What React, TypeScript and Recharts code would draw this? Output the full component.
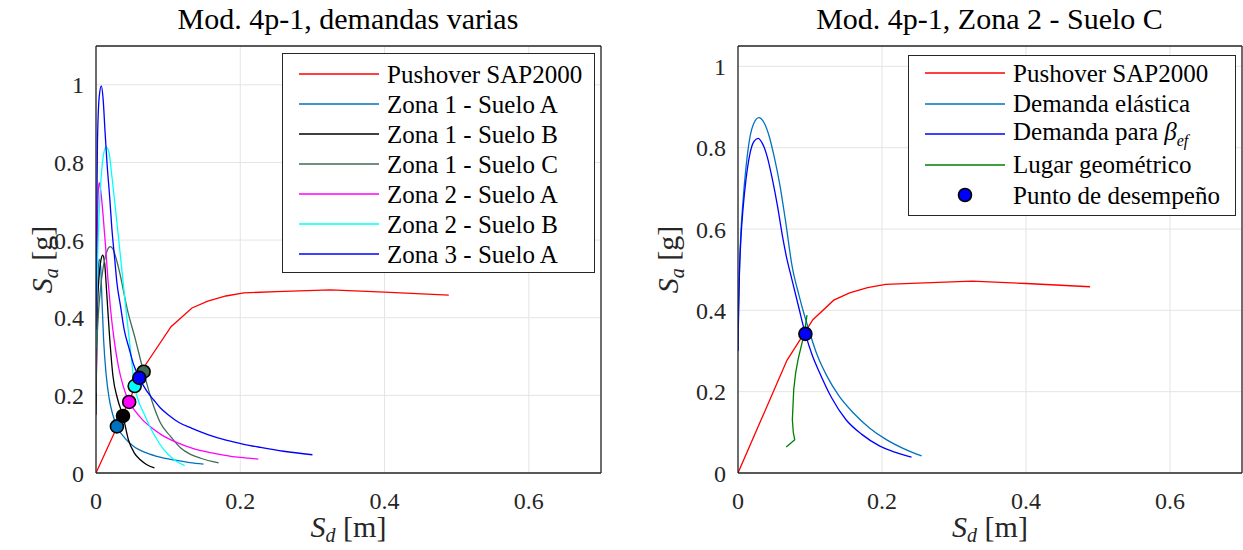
import React from "react";
import { ComposedChart, Line, Scatter, XAxis, YAxis, CartesianGrid } from "recharts";

type Pt = [number, number];

// Sd [m], Sa [g]
const pushover: Pt[] = [[0, 0], [0.068, 0.277], [0.104, 0.377], [0.133, 0.425], [0.155, 0.443], [0.18, 0.456], [0.205, 0.464], [0.25, 0.467], [0.325, 0.472], [0.4, 0.466], [0.489, 0.458]];

const zona1SueloA: Pt[] = [[0, 0.18], [0.001, 0.38], [0.0025, 0.5], [0.0045, 0.55], [0.0065, 0.53], [0.0082, 0.45], [0.0105, 0.345], [0.014, 0.255], [0.018, 0.195], [0.023, 0.152], [0.029, 0.12], [0.04, 0.09], [0.052, 0.069], [0.068, 0.053], [0.0845, 0.043], [0.11, 0.033], [0.13, 0.027], [0.149, 0.023]];
const zona1SueloB: Pt[] = [[0, 0.15], [0.0008, 0.3], [0.002, 0.42], [0.004, 0.5], [0.0065, 0.545], [0.0093, 0.561], [0.012, 0.54], [0.015, 0.46], [0.0185, 0.36], [0.0235, 0.25], [0.03, 0.19], [0.0374, 0.147], [0.045, 0.085], [0.053, 0.052], [0.0614, 0.034], [0.07, 0.022], [0.081, 0.013]];
const zona1SueloC: Pt[] = [[0, 0.207], [0.001, 0.31], [0.003, 0.4], [0.006, 0.47], [0.01, 0.53], [0.015, 0.57], [0.0198, 0.583], [0.024, 0.575], [0.028, 0.552], [0.033, 0.515], [0.038, 0.47], [0.043, 0.425], [0.0545, 0.345], [0.066, 0.26], [0.08, 0.172], [0.089, 0.13], [0.103, 0.095], [0.117, 0.065], [0.131, 0.048], [0.145, 0.038], [0.17, 0.026]];
const zona2SueloA: Pt[] = [[0, 0.27], [0.0008, 0.45], [0.002, 0.64], [0.0035, 0.735], [0.0046, 0.748], [0.007, 0.72], [0.01, 0.66], [0.013, 0.59], [0.0165, 0.5], [0.02, 0.425], [0.025, 0.345], [0.031, 0.275], [0.038, 0.222], [0.046, 0.183], [0.055, 0.158], [0.064, 0.138], [0.078, 0.115], [0.092, 0.097], [0.11, 0.08], [0.135, 0.063], [0.16, 0.052], [0.1815, 0.045], [0.2, 0.04], [0.225, 0.036]];
const zona2SueloB: Pt[] = [[0, 0.32], [0.001, 0.45], [0.003, 0.6], [0.006, 0.73], [0.009, 0.8], [0.0139, 0.84], [0.018, 0.825], [0.022, 0.765], [0.027, 0.68], [0.031, 0.61], [0.036, 0.52], [0.041, 0.43], [0.0476, 0.32], [0.0536, 0.224], [0.059, 0.185], [0.066, 0.155], [0.075, 0.118], [0.085, 0.085], [0.094, 0.06], [0.108, 0.035], [0.123, 0.019]];
const zona3SueloA: Pt[] = [[0, 0.37], [0.0008, 0.6], [0.002, 0.85], [0.0045, 0.97], [0.0074, 0.997], [0.01, 0.96], [0.0125, 0.88], [0.0152, 0.8], [0.019, 0.71], [0.022, 0.63], [0.026, 0.55], [0.029, 0.49], [0.034, 0.43], [0.039, 0.37], [0.046, 0.32], [0.052, 0.28], [0.06, 0.245], [0.07, 0.212], [0.08, 0.188], [0.089, 0.168], [0.1, 0.15], [0.115, 0.13], [0.133, 0.115], [0.155, 0.099], [0.1815, 0.084], [0.205, 0.074], [0.228, 0.066], [0.26, 0.056], [0.3, 0.047]];

// performance points, left panel
const ptZ1A: Pt = [0.029, 0.12];
const ptZ1B: Pt = [0.0374, 0.147];
const ptZ1C: Pt = [0.066, 0.261];
const ptZ2A: Pt = [0.046, 0.183];
const ptZ2B: Pt = [0.0536, 0.224];
const ptZ3A: Pt = [0.06, 0.245];

// right panel (zona 2 - suelo C)
const demandaElastica: Pt[] = [[0, 0.3], [0.0008, 0.4], [0.002, 0.5], [0.004, 0.59], [0.007, 0.67], [0.011, 0.75], [0.016, 0.82], [0.022, 0.86], [0.029, 0.874], [0.036, 0.862], [0.043, 0.83], [0.05, 0.78], [0.058, 0.71], [0.066, 0.62], [0.075, 0.51], [0.085, 0.435], [0.0996, 0.345], [0.11, 0.29], [0.123, 0.24], [0.14, 0.19], [0.16, 0.148], [0.183, 0.11], [0.206, 0.082], [0.23, 0.06], [0.255, 0.042]];
const demandaBeta: Pt[] = [[0, 0.3], [0.0008, 0.4], [0.002, 0.49], [0.004, 0.575], [0.007, 0.65], [0.011, 0.72], [0.016, 0.78], [0.022, 0.815], [0.0278, 0.823], [0.034, 0.81], [0.041, 0.775], [0.048, 0.72], [0.055, 0.655], [0.062, 0.58], [0.067, 0.534], [0.075, 0.475], [0.084, 0.41], [0.0936, 0.342], [0.103, 0.29], [0.1135, 0.246], [0.13, 0.185], [0.15, 0.131], [0.172, 0.095], [0.197, 0.066], [0.22, 0.05], [0.241, 0.039]];
const lugarGeometrico: Pt[] = [[0.067, 0.064], [0.0788, 0.082], [0.0768, 0.1], [0.0755, 0.131], [0.0765, 0.17], [0.0774, 0.205], [0.08, 0.245], [0.0834, 0.279], [0.09, 0.328], [0.0936, 0.36], [0.0958, 0.388]];
const puntoDesempeno: Pt = [0.0936, 0.342];

const xTicks = [0, 0.2, 0.4, 0.6];
const yTicks = [0, 0.2, 0.4, 0.6, 0.8, 1];

const FONT = "'Liberation Serif', 'DejaVu Serif', serif";
const AX = "#262626";
const C = {
  red: "#ff0000",
  steel: "#0072bd",
  black: "#000000",
  gray: "#406b55",
  magenta: "#ff00ff",
  cyan: "#00ffff",
  blue: "#0000ff",
  green: "#008000",
};

const toXY = (pts: Pt[]) => pts.map(([x, y]) => ({ x, y }));

const XTitle = ({ viewBox }: any) => {
  const cx = viewBox.x + viewBox.width / 2;
  return (
    <text x={cx} y={viewBox.y + 64} textAnchor="middle" fontFamily={FONT} fontSize={30} fill={AX}>
      <tspan fontStyle="italic">S</tspan>
      <tspan fontStyle="italic" fontSize={20} dy={5}>d</tspan>
      <tspan dy={-5}>{"\u00a0[m]"}</tspan>
    </text>
  );
};

const YTitle = ({ viewBox, gap }: any) => {
  const x = viewBox.x + viewBox.width - gap;
  const cy = viewBox.y + viewBox.height / 2;
  return (
    <text x={x} y={cy} transform={`rotate(-90 ${x} ${cy})`} textAnchor="middle" fontFamily={FONT} fontSize={30} fill={AX}>
      <tspan fontStyle="italic">S</tspan>
      <tspan fontStyle="italic" fontSize={20} dy={6}>a</tspan>
      <tspan dy={-6}>{"\u00a0[g]"}</tspan>
    </text>
  );
};

interface Series { key: string; color: string; pts: Pt[]; smooth?: boolean }
interface Marker { key: string; color: string; pt: Pt }
interface LegendItem { label: React.ReactNode; color: string; dot?: boolean }

function LegendBox({ items, left, top, width, height, padTop, rowH }: any) {
  return (
    <div
      style={{
        position: "absolute", left, top, width, height, boxSizing: "border-box",
        border: `1.3px solid ${AX}`, background: "#fff", paddingTop: padTop,
        fontFamily: FONT, fontSize: 25, color: "#000",
      }}
    >
      {items.map((it: LegendItem, i: number) => (
        <div key={i} style={{ height: rowH, display: "flex", alignItems: "center" }}>
          <svg width={80} height={16} style={{ marginLeft: 16, flex: "none" }}>
            {it.dot ? (
              <circle cx={40} cy={8} r={6.5} fill={it.color} stroke="#000" strokeWidth={1.6} />
            ) : (
              <line x1={0} x2={80} y1={8} y2={8} stroke={it.color} strokeWidth={1.3} />
            )}
          </svg>
          <span style={{ marginLeft: 8, whiteSpace: "nowrap", lineHeight: 1 }}>{it.label}</span>
        </div>
      ))}
    </div>
  );
}

function Panel({ left, width, mLeft, mRight, yMax, title, series, markers, yGap }: any) {
  const tickStyle = { fontFamily: FONT, fontSize: 24, fill: AX };
  const plotLeft = mLeft + 60;
  const plotRight = width - mRight - 1;
  return (
    <div style={{ position: "absolute", left, top: 0, width, height: 550 }}>
      <div
        style={{
          position: "absolute", left: plotLeft, width: plotRight - plotLeft, top: 1,
          textAlign: "center", fontFamily: FONT, fontSize: 30, lineHeight: "36px", color: "#000",
          whiteSpace: "nowrap",
        }}
      >
        {title}
      </div>
      <ComposedChart width={width} height={550} margin={{ top: 46, right: mRight, bottom: 17, left: mLeft }}>
        <CartesianGrid stroke="#e4e4e4" strokeWidth={1} />
        <XAxis
          dataKey="x" type="number" domain={[0, 0.7]} ticks={xTicks} allowDataOverflow height={60}
          tickLine={false} tickMargin={13} tick={tickStyle}
          axisLine={{ stroke: AX, strokeWidth: 1.3 }} label={<XTitle />}
        />
        <YAxis
          dataKey="y" type="number" domain={[0, yMax]} ticks={yTicks} allowDataOverflow width={60}
          tickLine={false} tickMargin={6} tick={tickStyle}
          axisLine={{ stroke: AX, strokeWidth: 1.3 }} label={<YTitle gap={yGap} />}
        />
        <XAxis
          xAxisId="top" orientation="top" type="number" domain={[0, 0.7]} ticks={xTicks} height={1}
          mirror tick={false} tickSize={6} tickLine={{ stroke: AX }} axisLine={{ stroke: AX, strokeWidth: 1.3 }}
        />
        <YAxis
          yAxisId="right" orientation="right" type="number" domain={[0, yMax]} ticks={yTicks} width={1}
          mirror tick={false} tickSize={6} tickLine={{ stroke: AX }} axisLine={{ stroke: AX, strokeWidth: 1.3 }}
        />
        {series.map((s: Series) => (
          <Line
            key={s.key} data={toXY(s.pts)} dataKey="y" type={s.smooth ? "monotoneX" : "linear"}
            stroke={s.color} strokeWidth={1.3} dot={false} activeDot={false} isAnimationActive={false}
          />
        ))}
        {markers.map((m: Marker) => (
          <Scatter
            key={m.key} data={[{ x: m.pt[0], y: m.pt[1] }]} dataKey="y" isAnimationActive={false}
            shape={(p: any) => <circle cx={p.cx} cy={p.cy} r={6.5} fill={m.color} stroke="#000" strokeWidth={1.6} />}
          />
        ))}
      </ComposedChart>
    </div>
  );
}

const leftSeries: Series[] = [
  { key: "push", color: C.red, pts: pushover },
  { key: "z1a", color: C.steel, pts: zona1SueloA, smooth: true },
  { key: "z1b", color: C.black, pts: zona1SueloB, smooth: true },
  { key: "z1c", color: C.gray, pts: zona1SueloC, smooth: true },
  { key: "z2a", color: C.magenta, pts: zona2SueloA, smooth: true },
  { key: "z2b", color: C.cyan, pts: zona2SueloB, smooth: true },
  { key: "z3a", color: C.blue, pts: zona3SueloA, smooth: true },
];
const leftMarkers: Marker[] = [
  { key: "p1a", color: C.steel, pt: ptZ1A },
  { key: "p1b", color: C.black, pt: ptZ1B },
  { key: "p1c", color: C.gray, pt: ptZ1C },
  { key: "p2a", color: C.magenta, pt: ptZ2A },
  { key: "p2b", color: C.cyan, pt: ptZ2B },
  { key: "p3a", color: C.blue, pt: ptZ3A },
];
const leftLegend: LegendItem[] = [
  { label: "Pushover SAP2000", color: C.red },
  { label: "Zona 1 - Suelo A", color: C.steel },
  { label: "Zona 1 - Suelo B", color: C.black },
  { label: "Zona 1 - Suelo C", color: C.gray },
  { label: "Zona 2 - Suelo A", color: C.magenta },
  { label: "Zona 2 - Suelo B", color: C.cyan },
  { label: "Zona 3 - Suelo A", color: C.blue },
];

const rightSeries: Series[] = [
  { key: "push", color: C.red, pts: pushover },
  { key: "elas", color: C.steel, pts: demandaElastica, smooth: true },
  { key: "beta", color: C.blue, pts: demandaBeta, smooth: true },
  { key: "lugar", color: C.green, pts: lugarGeometrico },
];
const rightMarkers: Marker[] = [{ key: "pd", color: C.blue, pt: puntoDesempeno }];
const rightLegend: LegendItem[] = [
  { label: "Pushover SAP2000", color: C.red },
  { label: "Demanda elástica", color: C.steel },
  {
    label: (
      <>
        Demanda para <i>β</i>
        <sub style={{ fontSize: 16, fontStyle: "italic" }}>ef</sub>
      </>
    ),
    color: C.blue,
  },
  { label: "Lugar geométrico", color: C.green },
  { label: "Punto de desempeño", color: C.blue, dot: true },
];

export default function App() {
  return (
    <div style={{ position: "absolute", left: 0, top: 0, width: 1243, height: 550, background: "#fff", overflow: "hidden" }}>
      <Panel
        left={0} width={620} mLeft={36} mRight={19} yMax={1.1}
        title="Mod. 4p-1, demandas varias" series={leftSeries} markers={leftMarkers} yGap={44}
      />
      <Panel
        left={620} width={623} mLeft={58} mRight={1} yMax={1.05}
        title="Mod. 4p-1, Zona 2 - Suelo C" series={rightSeries} markers={rightMarkers} yGap={60}
      />
      <LegendBox items={leftLegend} left={282} top={53} width={313} height={220} padTop={5} rowH={30} />
      <LegendBox items={rightLegend} left={908} top={55} width={328} height={161} padTop={2} rowH={30.5} />
    </div>
  );
}
